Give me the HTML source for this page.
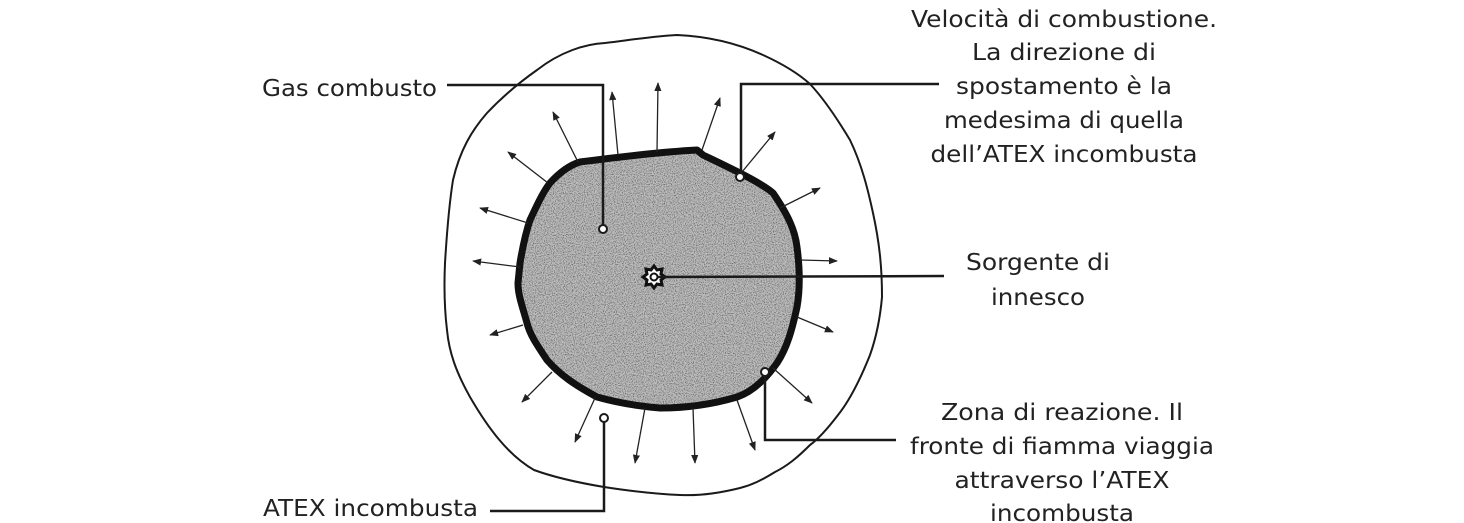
<!DOCTYPE html>
<html><head><meta charset="utf-8"><style>
html,body{margin:0;padding:0;background:#fff;}
svg{display:block;}
text{font-family:"DejaVu Sans","Liberation Sans",sans-serif;font-size:23px;fill:#222;}
</style></head><body>
<svg width="1464" height="523" viewBox="0 0 1464 523" xmlns="http://www.w3.org/2000/svg">
<defs>
<marker id="ah" viewBox="0 0 10 10" refX="9" refY="5" markerWidth="9" markerHeight="9" markerUnits="userSpaceOnUse" orient="auto"><path d="M0,1 L10,5 L0,9 z" fill="#222"/></marker>
<filter id="noise" x="0" y="0" width="100%" height="100%">
<feTurbulence type="fractalNoise" baseFrequency="0.9" numOctaves="2" seed="3" result="n"/>
<feColorMatrix type="matrix" values="0 0 0 0 0.1  0 0 0 0 0.1  0 0 0 0 0.1  0 0 0 -2.6 1.45" in="n"/>
</filter>
<clipPath id="inner"><path id="ip" d="M580,162 C620,157 660,152 697,150 L703,155 C730,168 760,182 773,193 C788,215 795,230 797,247 C800,270 800,290 797,307 C792,330 787,348 777,363 C765,380 752,392 737,397 C710,405 685,408 660,408 C635,406 615,402 597,397 C575,385 560,375 547,360 C537,345 530,335 527,323 C522,305 518,295 518,283 L520,263 C523,245 526,232 530,220 C537,205 543,192 550,183 C560,172 570,165 580,162 Z"/></clipPath>
</defs>
<!-- outer blob -->
<path d="M537,70 C560,52 585,44 605,43 C630,40 655,36 677,35 C700,36 730,40 763,55 C785,65 800,75 810,84 C825,100 838,120 850,140 C862,165 868,190 873,213 C880,245 882,270 882,297 C880,320 876,338 870,355 C860,380 850,400 838,415 C825,432 817,440 810,445 C797,458 787,466 775,472 C762,480 752,485 740,488 C720,493 700,496 680,495 C655,494 630,491 604,487 C580,483 556,478 534,470 C508,455 488,428 470,397 C456,372 449,352 447,330 C444,305 444,285 445,263 C447,230 449,205 453,180 C460,150 472,130 487,113 C503,96 520,82 537,70 Z" fill="none" stroke="#1a1a1a" stroke-width="2"/>
<!-- inner fill -->
<use href="#ip" fill="#bdbdbd"/>
<g clip-path="url(#inner)"><rect x="510" y="140" width="300" height="280" filter="url(#noise)"/></g>
<use href="#ip" fill="none" stroke="#111" stroke-width="7" stroke-linejoin="round"/>
<!-- arrows -->
<g stroke="#222" stroke-width="1.3" marker-end="url(#ah)">
<line x1="618" y1="155" x2="612" y2="92"/>
<line x1="657" y1="152" x2="658" y2="83"/>
<line x1="702" y1="150" x2="720" y2="98"/>
<line x1="742" y1="172" x2="775" y2="132"/>
<line x1="780" y1="208" x2="820" y2="188"/>
<line x1="800" y1="260" x2="837" y2="261"/>
<line x1="797" y1="317" x2="833" y2="332"/>
<line x1="773" y1="368" x2="812" y2="403"/>
<line x1="737" y1="400" x2="755" y2="450"/>
<line x1="693" y1="408" x2="695" y2="463"/>
<line x1="645" y1="408" x2="635" y2="463"/>
<line x1="595" y1="398" x2="575" y2="442"/>
<line x1="552" y1="372" x2="522" y2="402"/>
<line x1="523" y1="325" x2="490" y2="335"/>
<line x1="520" y1="267" x2="473" y2="261"/>
<line x1="528" y1="223" x2="480" y2="208"/>
<line x1="548" y1="183" x2="508" y2="152"/>
<line x1="578" y1="162" x2="553" y2="112"/>
</g>
<!-- ignition source -->
<g transform="translate(654,277)">
<path d="M0,-11 L3,-7 L8,-8 L7,-3 L11,0 L7,3 L8,8 L3,7 L0,11 L-3,7 L-8,8 L-7,3 L-11,0 L-7,-3 L-8,-8 L-3,-7 Z" fill="#fff" stroke="#111" stroke-width="3"/>
<circle r="3.5" fill="#fff" stroke="#111" stroke-width="2"/>
</g>
<!-- leader lines -->
<g fill="none" stroke="#1a1a1a" stroke-width="2.5">
<polyline points="447,85 603,85 603,225"/>
<polyline points="939,84 741,84 741,173"/>
<polyline points="658,277 944,276"/>
<polyline points="765,376 765,440 896,440"/>
<polyline points="604,422 604,511 490,511"/>
</g>
<g fill="#fff" stroke="#1a1a1a" stroke-width="2">
<circle cx="603" cy="229" r="4"/>
<circle cx="740" cy="177" r="4"/>
<circle cx="765" cy="372" r="4"/>
<circle cx="604" cy="418" r="4"/>
</g>
<!-- labels -->
<text x="262" y="96" textLength="175" lengthAdjust="spacingAndGlyphs">Gas combusto</text>
<text x="263" y="516" textLength="215" lengthAdjust="spacingAndGlyphs">ATEX incombusta</text>
<g text-anchor="middle">
<text x="1064" y="27" textLength="306" lengthAdjust="spacingAndGlyphs">Velocità di combustione.</text>
<text x="1064" y="60" textLength="184" lengthAdjust="spacingAndGlyphs">La direzione di</text>
<text x="1064" y="94" textLength="216" lengthAdjust="spacingAndGlyphs">spostamento è la</text>
<text x="1064" y="128" textLength="240" lengthAdjust="spacingAndGlyphs">medesima di quella</text>
<text x="1064" y="162" textLength="267" lengthAdjust="spacingAndGlyphs">dell’ATEX incombusta</text>
<text x="1038" y="270" textLength="144" lengthAdjust="spacingAndGlyphs">Sorgente di</text>
<text x="1038" y="305" textLength="94" lengthAdjust="spacingAndGlyphs">innesco</text>
<text x="1062" y="420" textLength="242" lengthAdjust="spacingAndGlyphs">Zona di reazione. Il</text>
<text x="1062" y="454" textLength="304" lengthAdjust="spacingAndGlyphs">fronte di fiamma viaggia</text>
<text x="1062" y="488" textLength="215" lengthAdjust="spacingAndGlyphs">attraverso l’ATEX</text>
<text x="1062" y="521" textLength="144" lengthAdjust="spacingAndGlyphs">incombusta</text>
</g>
</svg>
</body></html>
